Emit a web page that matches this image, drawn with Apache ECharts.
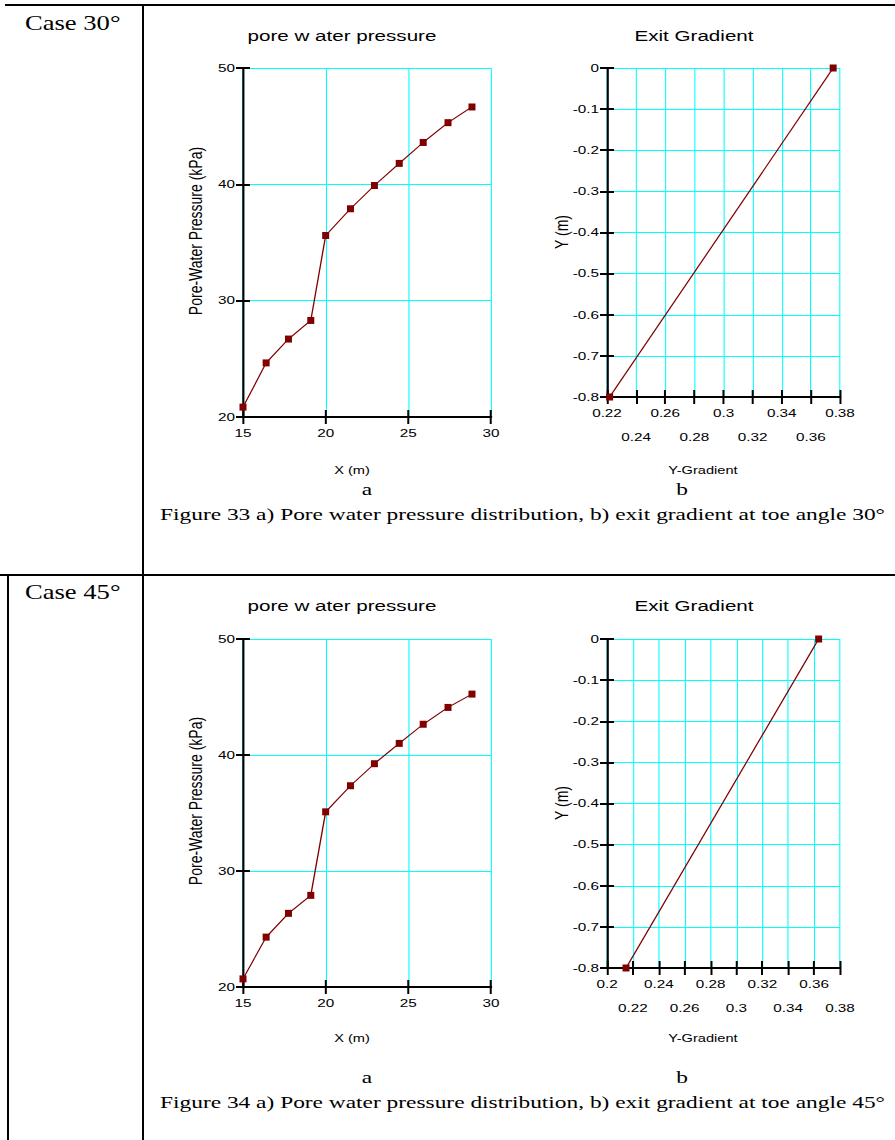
<!DOCTYPE html>
<html><head><meta charset="utf-8">
<script src="https://cdn.jsdelivr.net/npm/echarts@6/dist/echarts.min.js"></script>
<style>
html,body{margin:0;padding:0;overflow:hidden;background:#fff;}
#c{width:673px;height:1140px;transform-origin:0 0;}
</style></head><body><div id="c"></div>
<script>
// ---------- data ----------
const pwpX30 = [15, 16.4, 17.75, 19.1, 20, 21.5, 22.95, 24.45, 25.9, 27.4, 28.85];
const pwpY30 = [20.85, 24.65, 26.7, 28.3, 35.6, 37.9, 39.9, 41.8, 43.6, 45.3, 46.65];
const pwpX45 = [15, 16.4, 17.75, 19.1, 20, 21.5, 22.95, 24.45, 25.9, 27.4, 28.85];
const pwpY45 = [20.7, 24.3, 26.35, 27.9, 35.1, 37.35, 39.25, 41.0, 42.65, 44.1, 45.25];
const gradX30 = [0.2218, 0.3753];
const gradY30 = [-0.8, 0];
const gradX45 = [0.2147, 0.3635];
const gradY45 = [-0.8, 0];
const pwpXTicks = [15, 20, 25, 30];
const pwpYTicks = [20, 30, 40, 50];
const gradXTicks30 = [0.22, 0.24, 0.26, 0.28, 0.30, 0.32, 0.34, 0.36, 0.38];
const gradXTicks45 = [0.20, 0.22, 0.24, 0.26, 0.28, 0.30, 0.32, 0.34, 0.36, 0.38];
const gradYTicks = [-0.8, -0.7, -0.6, -0.5, -0.4, -0.3, -0.2, -0.1, 0];

// ---------- layout helpers ----------
const W0 = 673;
const S = 895 / W0;                  // horizontal stretch of the reference
document.getElementById('c').style.transform = 'scaleX(' + S + ')';
const X = px => px / S;
const sans = 'Liberation Sans, Arial, sans-serif';
const serif = 'Liberation Serif, Times New Roman, serif';
const CYAN = '#00ffff';
const LINE = '#800000';

const grids = [
  {left: X(243), top: 68, width: X(491 - 243), height: 417 - 68},
  {left: X(607), top: 68, width: X(840 - 607), height: 397 - 68},
  {left: X(243), top: 639, width: X(491 - 243), height: 987 - 639},
  {left: X(607), top: 639, width: X(840 - 607), height: 968 - 639}
];

const fmt2 = v => String(Math.round(v * 100) / 100);
const fmt1 = v => String(Math.round(v * 10) / 10 + 0);

function range(t) { return {min: t[0], max: t[t.length - 1], interval: Math.round((t[1] - t[0]) * 1000) / 1000}; }

const xAxes = [], yAxes = [];
function addAxes(gi, xt, yt, stagger) {
  const xr = range(xt), yr = range(yt);
  const lbl = {color: '#000', fontFamily: sans, fontSize: 11.5, lineHeight: 14,
    showMinLabel: true, showMaxLabel: true, hideOverlap: false};
  xAxes.push(Object.assign({
    type: 'value', gridIndex: gi, position: 'bottom',
    axisLine: {show: true, onZero: false, lineStyle: {color: '#000', width: 2}},
    axisTick: {show: true, inside: false, length: 7, lineStyle: {color: '#000', width: 1.5}},
    axisLabel: Object.assign({show: true, margin: 9,
      formatter: stagger ? (v, i) => (i % 2 ? '' : fmt2(v)) : v => fmt2(v)}, lbl),
    splitLine: {show: true, lineStyle: {color: CYAN, width: 0.8}}
  }, xr));
  xAxes.push(Object.assign({
    type: 'value', gridIndex: gi, position: 'bottom',
    axisLine: {show: false, onZero: false}, splitLine: {show: false},
    axisLabel: Object.assign({show: stagger, margin: 33,
      formatter: (v, i) => (i % 2 ? fmt2(v) : '')}, lbl),
    axisTick: {show: true, inside: true, length: 7, lineStyle: {color: '#000', width: 1.5}}
  }, xr));
  yAxes.push(Object.assign({
    type: 'value', gridIndex: gi, position: 'left',
    axisLine: {show: true, onZero: false, lineStyle: {color: '#000', width: 1.6}},
    axisTick: {show: true, inside: false, length: X(7), lineStyle: {color: '#000', width: 2}},
    axisLabel: Object.assign({show: true, margin: X(8),
      formatter: v => (Math.abs(yr.interval) < 1 ? fmt1(v) : String(v))}, lbl),
    splitLine: {show: true, lineStyle: {color: CYAN, width: 1}}
  }, yr));
  yAxes.push(Object.assign({
    type: 'value', gridIndex: gi, position: 'left',
    axisLine: {show: false, onZero: false}, axisLabel: {show: false}, splitLine: {show: false},
    axisTick: {show: true, inside: true, length: X(7), lineStyle: {color: '#000', width: 2}}
  }, yr));
}
addAxes(0, pwpXTicks, pwpYTicks, false);
addAxes(1, gradXTicks30, gradYTicks, true);
addAxes(2, pwpXTicks, pwpYTicks, false);
addAxes(3, gradXTicks45, gradYTicks, true);

function zip(a, b) { return a.map((v, i) => [v, b[i]]); }
function lineSeries(gi, xs, ys) {
  return {
    type: 'line', xAxisIndex: 2 * gi, yAxisIndex: 2 * gi, data: zip(xs, ys),
    symbol: 'rect', symbolSize: [X(7), 7], clip: false, z: 5,
    lineStyle: {color: LINE, width: 1}, itemStyle: {color: LINE},
    emphasis: {disabled: true}, animation: false
  };
}

function txt(x, y, text, size, family, rot) {
  return {type: 'text', x: X(x), y: y, rotation: rot || 0, z: 10,
    style: {text: text, fontSize: size, fontFamily: family, fill: '#000', align: 'center', verticalAlign: 'middle'}};
}
function txtL(x, y, text, size, family) {
  return {type: 'text', x: X(x), y: y, z: 10,
    style: {text: text, fontSize: size, fontFamily: family, fill: '#000', align: 'left', verticalAlign: 'middle'}};
}
function hline(x1, x2, y, w) { return {type: 'line', z: 10, shape: {x1: X(x1), y1: y, x2: X(x2), y2: y}, style: {stroke: '#000', lineWidth: w}}; }
function vline(x, y1, y2, w) { return {type: 'line', z: 10, shape: {x1: X(x), y1: y1, x2: X(x), y2: y2}, style: {stroke: '#000', lineWidth: w / S}}; }

const graphics = [
  // table rules
  hline(5, 895, 5, 2),
  hline(0, 895, 575, 2),
  vline(143, 5, 1140, 2),
  vline(8, 575, 1140, 2),
  // row labels
  txtL(25, 23, 'Case 30°', 20, serif),
  txtL(25, 592, 'Case 45°', 20, serif),
  // chart titles
  txt(342, 35, 'pore w ater pressure', 15.5, sans),
  txt(694, 35, 'Exit Gradient', 15.5, sans),
  txt(342, 605, 'pore w ater pressure', 15.5, sans),
  txt(694, 605, 'Exit Gradient', 15.5, sans),
  // axis names
  txt(195, 231, 'Pore-Water Pressure (kPa)', 14, sans, Math.PI / 2),
  txt(561, 232, 'Y (m)', 14, sans, Math.PI / 2),
  txt(195, 801, 'Pore-Water Pressure (kPa)', 14, sans, Math.PI / 2),
  txt(561, 803, 'Y (m)', 14, sans, Math.PI / 2),
  txt(352, 470, 'X (m)', 11, sans),
  txt(703, 470, 'Y-Gradient', 11, sans),
  txt(352, 1038, 'X (m)', 11, sans),
  txt(703, 1038, 'Y-Gradient', 11, sans),
  // captions
  txt(367, 489, 'a', 17.6, serif),
  txt(682, 489, 'b', 17.6, serif),
  txtL(160, 514, 'Figure 33 a) Pore water pressure distribution, b) exit gradient at toe angle 30°', 17.6, serif),
  txt(367, 1077, 'a', 17.6, serif),
  txt(682, 1077, 'b', 17.6, serif),
  txtL(160, 1102, 'Figure 34 a) Pore water pressure distribution, b) exit gradient at toe angle 45°', 17.6, serif)
];

const chart = echarts.init(document.getElementById('c'), null, {renderer: 'svg', width: W0, height: 1140});
chart.setOption({
  animation: false,
  backgroundColor: '#fff',
  grid: grids,
  xAxis: xAxes,
  yAxis: yAxes,
  series: [
    lineSeries(0, pwpX30, pwpY30),
    lineSeries(1, gradX30, gradY30),
    lineSeries(2, pwpX45, pwpY45),
    lineSeries(3, gradX45, gradY45)
  ],
  graphic: graphics
});
</script></body></html>
